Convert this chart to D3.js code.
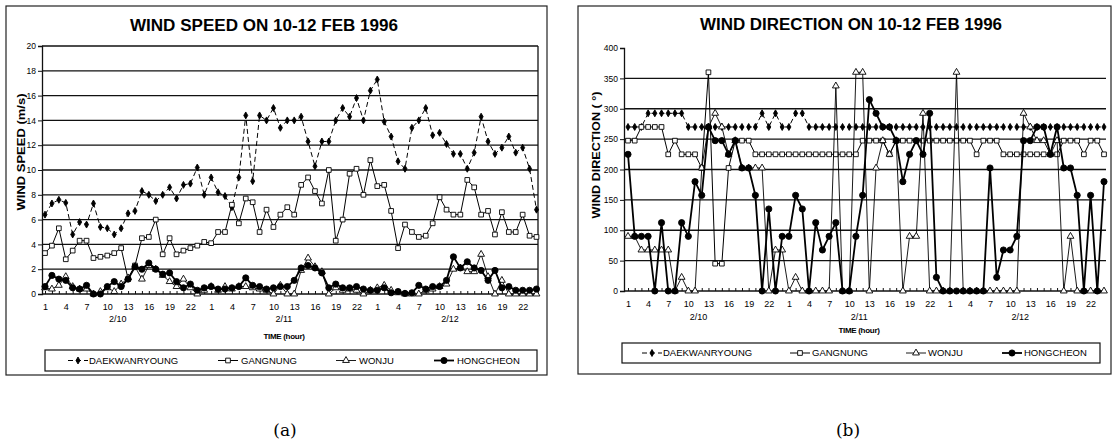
<!DOCTYPE html>
<html lang="en">
<head>
<meta charset="UTF-8">
<title>Wind speed and direction, 10-12 Feb 1996</title>
<script src="https://cdnjs.cloudflare.com/ajax/libs/d3/7.8.5/d3.min.js"></script>
<style>
  body { margin: 0; background: #fff; }
  svg { display: block; font-family: "Liberation Sans", Arial, sans-serif; }
  .tick text { font-family: "Liberation Sans Narrow", "Liberation Sans", Arial, sans-serif; }
</style>
</head>
<body>
<svg id="chart" width="1113" height="442"></svg>
<script>
const stations = ["DAEKWANRYOUNG", "GANGNUNG", "WONJU", "HONGCHEON"];
const hourLabels = [1, 4, 7, 10, 13, 16, 19, 22];
const dayLabels = ["2/10", "2/11", "2/12"];
const speedTicks = [0, 2, 4, 6, 8, 10, 12, 14, 16, 18, 20];
const dirTicks = [0, 50, 100, 150, 200, 250, 300, 350, 400];

// hourly wind speed (m/s), 2/10 01h .. 2/12 24h
const speedDaek = [6.4,7.3,7.6,7.35,4.8,5.8,5.6,7.3,5.4,5.3, 4.8,5.3,6.5,6.7,8.3,8.0,7.5,8.0,8.6,7.7,
  8.8,8.9,10.2,8.0,9.4,8.2,7.9,7.0,9.4,14.4, 9.1,14.4,14.0,15.0,13.4,14.0,14.0,14.3,12.3,10.3,
  12.3,12.3,14.0,15.0,14.3,15.8,14.0,16.4,17.3,13.9, 12.7,10.7,10.1,13.4,14.0,15.0,12.8,13.0,12.1,11.3,
  11.3,10.1,11.4,14.3,12.3,11.3,11.8,12.7,11.4,11.8, 10.1,6.8];
const speedGang = [3.3,3.9,5.3,2.8,3.5,4.3,4.3,2.9,3.0,3.1, 3.3,3.7,1.2,2.3,4.5,4.6,6.0,3.2,4.5,3.2,
  3.5,3.7,3.9,4.2,4.1,5.0,5.0,7.2,5.7,7.7, 7.4,5.0,6.8,5.4,6.4,7.0,6.4,8.8,9.4,8.3,
  7.3,10.0,4.3,6.0,9.7,10.1,8.0,10.8,8.7,8.8, 6.7,3.7,5.6,5.0,4.6,4.7,5.7,7.8,6.8,6.4,
  6.4,9.2,8.6,6.4,6.7,4.8,6.6,5.0,5.0,6.4, 4.7,4.6];
const speedWonju = [0.5,0.4,0.7,1.4,0.6,0.4,0.4,0.0,0.2,0.5, 0.2,0.8,1.3,2.2,1.2,2.3,2.0,1.5,1.0,0.6,
  1.2,0.5,0.0,0.3,0.6,0.3,0.6,0.4,0.6,0.6, 0.5,0.4,0.3,0.0,0.7,0.0,0.0,1.9,2.9,2.2,
  1.8,0.0,0.5,0.3,0.4,0.3,0.0,0.3,0.5,0.7, 0.3,0.1,0.0,0.0,0.0,0.3,0.4,0.6,0.8,2.0,
  2.1,1.8,1.8,3.2,1.4,0.0,1.1,0.0,0.0,0.0, 0.0,0.0];
const speedHong = [0.6,1.5,1.2,1.1,0.5,0.4,0.7,0.0,0.0,0.6, 1.0,0.6,1.2,2.2,2.0,2.5,2.0,1.6,1.7,1.0,
  0.5,0.8,0.3,0.5,0.6,0.4,0.4,0.5,0.6,1.3, 0.7,0.6,0.4,0.5,0.6,0.6,1.1,2.1,2.3,2.1,
  1.7,0.5,0.8,0.5,0.5,0.6,0.4,0.3,0.3,0.5, 0.1,0.2,0.05,0.1,0.7,0.4,0.6,0.6,1.1,3.0,
  2.1,2.6,2.1,1.9,1.1,1.9,0.5,0.6,0.3,0.3, 0.3,0.4];

// hourly wind direction (deg)
const dirDaek = [270,270,270,292.5,292.5,292.5,292.5,292.5,292.5,270, 270,270,270,270,270,270,270,270,270,270,
  292.5,270,292.5,270,270,292.5,292.5,270,270,270, 270,270,270,270,270,270,270,270,270,270,
  270,270,270,270,270,270,270,270,270,270, 270,270,270,270,270,270,270,270,270,270,
  270,270,270,270,270,270,270,270,270,270, 270,270];
const dirGang = [247.5,247.5,270,270,270,270,225,247.5,225,225, 225,202.5,360,45,45,202.5,247.5,247.5,247.5,225,
  225,225,225,225,225,225,225,225,225,225, 225,225,225,225,225,247.5,247.5,247.5,247.5,225,
  247.5,247.5,247.5,247.5,247.5,247.5,247.5,247.5,247.5,247.5, 247.5,247.5,225,247.5,247.5,247.5,225,225,225,225,
  225,225,225,225,225,247.5,247.5,247.5,225,247.5, 247.5,225];
const dirWonju = [90,90,67.5,67.5,67.5,67.5,67.5,0,22.5,0, 0,202.5,270,292.5,270,225,247.5,202.5,202.5,202.5,
  202.5,0,67.5,67.5,0,22.5,0,0,0,0, 0,337.5,0,0,360,360,0,202.5,247.5,225,
  247.5,0,90,90,292.5,0,0,0,0,360, 0,0,0,0,0,0,0,0,0,292.5,
  270,247.5,247.5,225,247.5,0,90,0,0,0, 0,0];
const dirHong = [225,90,90,90,0,112.5,0,0,112.5,90, 180,157.5,270,247.5,247.5,225,247.5,202.5,202.5,157.5,
  0,135,0,90,90,157.5,135,0,112.5,67.5, 90,112.5,0,0,90,157.5,315,292.5,270,270,
  247.5,180,225,247.5,225,292.5,22.5,0,0,0, 0,0,0,0,202.5,22.5,67.5,67.5,90,247.5,
  247.5,270,270,225,270,202.5,202.5,157.5,0,157.5, 0,180];

const svg = d3.select("#chart");

// one marker / line style per station, same order as `stations`
const styles = [
  { symbol: d3.symbolDiamond, size: 14, fill: "#000", dash: "5,3", width: 1 },
  { symbol: d3.symbolSquare, size: 22, fill: "#fff", dash: null, width: 1 },
  { symbol: d3.symbolTriangle, size: 20, fill: "#fff", dash: null, width: 0.9 },
  { symbol: d3.symbolCircle, size: 30, fill: "#000", dash: null, width: 1.8 }
];

const panels = [
  {
    frame: [6, 6, 547, 375],
    plot: { left: 42, right: 538, top: 46, bottom: 294 },
    xRange: [45, 536.5],
    yDomain: [0, 20], yTicks: speedTicks,
    title: "WIND SPEED ON 10-12 FEB 1996", titleX: 264, titleY: 31, titleLen: 268,
    yTitle: "WIND SPEED (m/s)", yTitleX: 21, yTitleY: 152, yTitleLen: 117,
    topLine: true, rightLine: true,
    series: [speedDaek, speedGang, speedWonju, speedHong],
    dayY: 322, timeX: 284, timeY: 339,
    legend: { box: [45, 350, 537, 371], sym: [78, 228, 346, 444], text: [89, 241, 359, 457] },
    caption: "(a)", capX: 285
  },
  {
    frame: [578, 6, 1111, 374],
    plot: { left: 624, right: 1106, top: 48, bottom: 291 },
    xRange: [628, 1104],
    yDomain: [0, 400], yTicks: dirTicks,
    title: "WIND DIRECTION ON 10-12 FEB 1996", titleX: 851, titleY: 30, titleLen: 302,
    yTitle: "WIND DIRECTION ( \u00b0)", yTitleX: 596, yTitleY: 155, yTitleLen: 127,
    topLine: false, rightLine: false,
    series: [dirDaek, dirGang, dirWonju, dirHong],
    dayY: 320, timeX: 859, timeY: 333,
    legend: { box: [622, 343, 1100, 363], sym: [652, 800, 916, 1012], text: [663, 812, 928, 1024] },
    caption: "(b)", capX: 848
  }
];

panels.forEach(p => {
  const g = svg.append("g");
  const [fx0, fy0, fx1, fy1] = p.frame;

  g.append("rect")
    .attr("x", fx0).attr("y", fy0)
    .attr("width", fx1 - fx0).attr("height", fy1 - fy0)
    .attr("fill", "none").attr("stroke", "#222").attr("stroke-width", 1.2);

  g.append("text")
    .attr("x", p.titleX).attr("y", p.titleY)
    .attr("text-anchor", "middle")
    .attr("font-size", 16).attr("font-weight", "bold")
    .attr("textLength", p.titleLen).attr("lengthAdjust", "spacingAndGlyphs")
    .text(p.title);

  const x = d3.scaleLinear().domain([0, 71]).range(p.xRange);
  const y = d3.scaleLinear().domain(p.yDomain).range([p.plot.bottom, p.plot.top]);

  // horizontal grid
  const gridVals = p.yTicks.filter(v => v > 0 && (p.topLine || v < p.yDomain[1]));
  g.selectAll(".grid").data(gridVals).enter().append("line")
    .attr("x1", p.plot.left).attr("x2", p.plot.right)
    .attr("y1", d => y(d)).attr("y2", d => y(d))
    .attr("stroke", "#111").attr("stroke-width", 1.3);

  // y axis
  const yAxis = g.append("g")
    .attr("transform", `translate(${p.plot.left},0)`)
    .call(d3.axisLeft(y).tickValues(p.yTicks).tickSize(4).tickPadding(2));
  yAxis.select(".domain").attr("stroke", "#111").attr("stroke-width", 1.3);
  yAxis.selectAll(".tick line").attr("stroke", "#111");
  yAxis.selectAll(".tick text").attr("font-size", 8.5);

  // x axis: a small tick every hour, labels every three hours
  const xAxis = g.append("g")
    .attr("transform", `translate(0,${p.plot.bottom})`)
    .call(d3.axisBottom(x).tickValues(d3.range(72)).tickSize(-3).tickPadding(10)
      .tickFormat(i => i % 3 === 0 ? hourLabels[(i % 24) / 3] : ""));
  xAxis.select(".domain").attr("d", `M${p.plot.left},0H${p.plot.right}`)
    .attr("stroke", "#111").attr("stroke-width", 1.3);
  xAxis.selectAll(".tick line").attr("stroke", "#111");
  xAxis.selectAll(".tick text").attr("font-size", 9);

  if (p.rightLine) {
    g.append("line")
      .attr("x1", p.plot.right).attr("x2", p.plot.right)
      .attr("y1", p.plot.top).attr("y2", p.plot.bottom)
      .attr("stroke", "#111").attr("stroke-width", 1.3);
  }

  g.selectAll(".day").data(dayLabels).enter().append("text")
    .attr("x", (d, k) => x(10.5 + 24 * k)).attr("y", p.dayY)
    .attr("text-anchor", "middle").attr("font-size", 9)
    .attr("font-family", "'Liberation Sans Narrow', 'Liberation Sans', sans-serif")
    .text(d => d);

  g.append("text")
    .attr("x", p.timeX).attr("y", p.timeY)
    .attr("text-anchor", "middle").attr("font-size", 8).attr("font-weight", "bold")
    .attr("letter-spacing", -0.3)
    .text("TIME (hour)");

  g.append("text")
    .attr("transform", `translate(${p.yTitleX},${p.yTitleY}) rotate(-90)`)
    .attr("text-anchor", "middle").attr("dy", "0.35em")
    .attr("font-size", 10).attr("font-weight", "bold")
    .attr("textLength", p.yTitleLen).attr("lengthAdjust", "spacingAndGlyphs")
    .text(p.yTitle);

  // series
  p.series.forEach((vals, s) => {
    const st = styles[s];
    const line = d3.line().x((d, i) => x(i)).y(d => y(d));
    g.append("path")
      .datum(vals)
      .attr("d", line)
      .attr("fill", "none").attr("stroke", "#000")
      .attr("stroke-width", st.width)
      .attr("stroke-dasharray", st.dash);
    g.selectAll(null).data(vals).enter().append("path")
      .attr("transform", (d, i) => `translate(${x(i)},${y(d)})`)
      .attr("d", d3.symbol().type(st.symbol).size(st.size))
      .attr("fill", st.fill).attr("stroke", "#000").attr("stroke-width", 0.9);
  });

  // legend
  const L = p.legend;
  g.append("rect")
    .attr("x", L.box[0]).attr("y", L.box[1])
    .attr("width", L.box[2] - L.box[0]).attr("height", L.box[3] - L.box[1])
    .attr("fill", "#fff").attr("stroke", "#111").attr("stroke-width", 1.2);
  const ly = (L.box[1] + L.box[3]) / 2;
  stations.forEach((name, s) => {
    const st = styles[s];
    g.append("line")
      .attr("x1", L.sym[s] - 10).attr("x2", L.sym[s] + 10)
      .attr("y1", ly).attr("y2", ly)
      .attr("stroke", "#000").attr("stroke-width", st.width)
      .attr("stroke-dasharray", st.dash);
    g.append("path")
      .attr("transform", `translate(${L.sym[s]},${ly})`)
      .attr("d", d3.symbol().type(st.symbol).size(st.size))
      .attr("fill", st.fill).attr("stroke", "#000").attr("stroke-width", 0.9);
    g.append("text")
      .attr("x", L.text[s]).attr("y", ly).attr("dy", "0.35em")
      .attr("font-size", 9.5)
      .text(name);
  });

  svg.append("text")
    .attr("x", p.capX).attr("y", 436)
    .attr("text-anchor", "middle")
    .attr("font-family", "'DejaVu Serif', 'Liberation Serif', serif")
    .attr("font-size", 17)
    .text(p.caption);
});
</script>
</body>
</html>
